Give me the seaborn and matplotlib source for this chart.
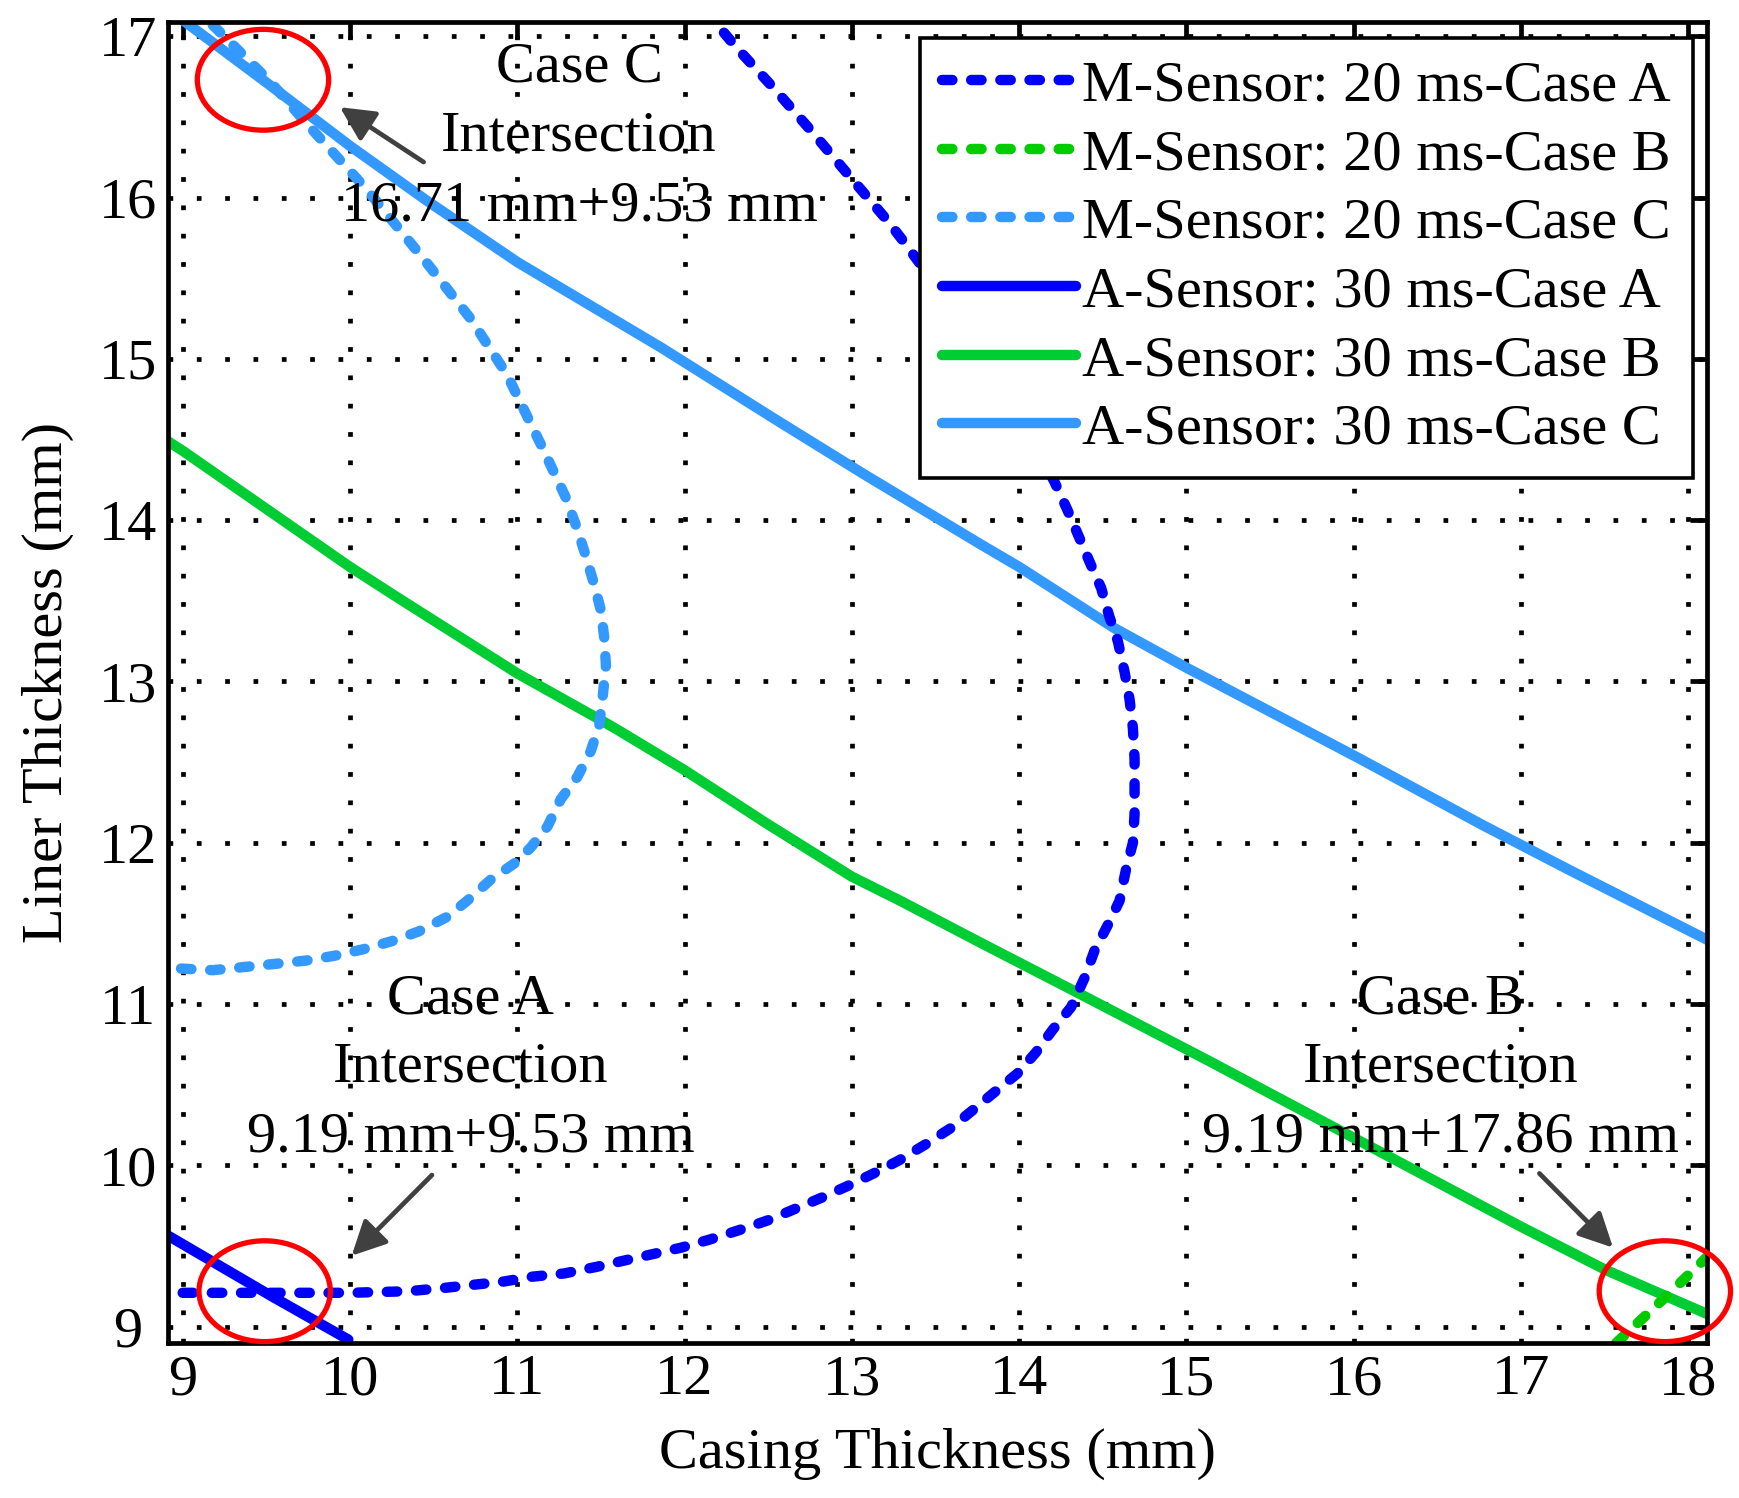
import matplotlib
matplotlib.use("Agg")
import matplotlib.pyplot as plt
from matplotlib.patches import Ellipse
import seaborn as sns
import pandas as pd

# ---------------- data ----------------
m_a_x = [9.00, 9.50, 10.00, 10.35, 10.56, 10.74, 10.92, 11.09, 11.28, 11.47, 11.64, 11.81,
         11.98, 12.15, 12.33, 12.50, 12.66, 12.82, 12.97, 13.13, 13.28, 13.44, 13.59, 13.72,
         13.86, 13.99, 14.10, 14.20, 14.31, 14.39, 14.45, 14.53, 14.60, 14.64, 14.68, 14.69,
         14.69, 14.69, 14.68, 14.66, 14.63, 14.59, 14.54, 14.49, 14.43, 14.36, 14.29, 14.21,
         13.95, 13.65, 13.30, 13.21, 12.98, 12.76, 12.54, 12.31, 12.18, 12.12]
m_a_y = [9.21, 9.21, 9.21, 9.22, 9.24, 9.26, 9.28, 9.31, 9.33, 9.37, 9.41, 9.45,
         9.49, 9.54, 9.60, 9.66, 9.73, 9.80, 9.87, 9.95, 10.03, 10.13, 10.23, 10.34,
         10.46, 10.57, 10.70, 10.84, 10.98, 11.16, 11.33, 11.49, 11.64, 11.84, 12.00, 12.18,
         12.35, 12.52, 12.71, 12.89, 13.06, 13.25, 13.40, 13.58, 13.72, 13.89, 14.06, 14.24,
         14.75, 15.25, 15.74, 15.86, 16.14, 16.41, 16.67, 16.93, 17.09, 17.17]

m_b_x = [17.57, 17.86, 18.11]
m_b_y = [8.90, 9.18, 9.43]

m_c_x = [8.99, 9.18, 9.37, 9.56, 9.74, 9.91, 10.08, 10.25, 10.41, 10.58, 10.70, 10.84,
         10.98, 11.08, 11.18, 11.26, 11.36, 11.44, 11.49, 11.51, 11.53, 11.52, 11.50, 11.46,
         11.40, 11.35, 11.29, 11.15, 11.00, 10.94, 10.72, 10.44, 10.10, 9.74, 9.53, 9.14, 9.10]
m_c_y = [11.22, 11.21, 11.23, 11.25, 11.27, 11.30, 11.34, 11.39, 11.45, 11.54, 11.64, 11.77,
         11.87, 11.97, 12.10, 12.27, 12.41, 12.57, 12.73, 12.90, 13.10, 13.27, 13.44, 13.60,
         13.81, 13.97, 14.14, 14.45, 14.77, 14.90, 15.25, 15.62, 16.05, 16.46, 16.71, 17.11, 17.15]

a_a_x = [8.92, 9.53, 9.99]
a_a_y = [9.56, 9.19, 8.92]

a_b_x = [8.91, 9.00, 10.00, 10.30, 11.00, 11.50, 11.60, 12.00, 12.49, 13.00, 13.29, 13.77,
         14.35, 15.13, 16.51, 17.00, 17.51, 18.11]
a_b_y = [14.49, 14.43, 13.71, 13.51, 13.05, 12.76, 12.70, 12.45, 12.12, 11.79, 11.64, 11.38,
         11.07, 10.65, 9.89, 9.62, 9.35, 9.08]

a_c_x = [9.00, 9.53, 10.00, 10.46, 11.00, 11.86, 12.55, 13.08, 13.77, 14.00, 14.57, 15.01,
         16.02, 16.77, 17.31, 17.71, 18.11]
a_c_y = [17.10, 16.69, 16.32, 15.98, 15.60, 15.07, 14.62, 14.28, 13.85, 13.71, 13.33, 13.08,
         12.53, 12.11, 11.82, 11.61, 11.40]

labels = ["M-Sensor: 20 ms-Case A", "M-Sensor: 20 ms-Case B", "M-Sensor: 20 ms-Case C",
          "A-Sensor: 30 ms-Case A", "A-Sensor: 30 ms-Case B", "A-Sensor: 30 ms-Case C"]

x_ticks = [9, 10, 11, 12, 13, 14, 15, 16, 17, 18]
y_ticks = [9, 10, 11, 12, 13, 14, 15, 16, 17]

annot_lines = {
    "C": ["Case C", "Intersection", "16.71 mm+9.53 mm"],
    "A": ["Case A", "Intersection", "9.19 mm+9.53 mm"],
    "B": ["Case B", "Intersection", "9.19 mm+17.86 mm"],
}

# ---------------- style ----------------
sns.set_style("white")
plt.rcParams["font.family"] = ["Liberation Serif", "DejaVu Serif"]
for k in ["text.color", "axes.labelcolor", "xtick.color", "ytick.color", "axes.edgecolor"]:
    plt.rcParams[k] = "black"

FS = 42
BLUE = "#0000FF"
GREEN_D = "#00CC00"
GREEN_S = "#00CC33"
LBLUE = "#3399FF"
LW = 7.5
DASH = (0, (1.0, 1.8))

fig = plt.figure(figsize=(17.4, 14.98), dpi=100)
ax = fig.add_axes([168.3 / 1740, 1 - 1343.3 / 1498, (1706.7 - 168.3) / 1740, (1343.3 - 21.7) / 1498])

series = [
    (m_a_x, m_a_y, labels[0], BLUE, DASH, 6),
    (m_b_x, m_b_y, labels[1], GREEN_D, DASH, 6),
    (m_c_x, m_c_y, labels[2], LBLUE, DASH, 4),
    (a_a_x, a_a_y, labels[3], BLUE, "-", 3),
    (a_b_x, a_b_y, labels[4], GREEN_S, "-", 3),
    (a_c_x, a_c_y, labels[5], LBLUE, "-", 5),
]

for xs, ys, lab, col, ls, z in series:
    df = pd.DataFrame({"x": xs, "y": ys})
    sns.lineplot(data=df, x="x", y="y", ax=ax, sort=False, estimator=None,
                 color=col, linewidth=LW, linestyle=ls, label=lab, zorder=z,
                 dash_capstyle="round", solid_capstyle="round")

ax.set_xlim(8.914, 18.11)
ax.set_ylim(8.897, 17.09)
ax.set_xticks(x_ticks)
ax.set_yticks(y_ticks)
ax.set_xticklabels([str(t) for t in x_ticks])
ax.set_yticklabels([str(t) for t in y_ticks])

ax.grid(True, color="black", linestyle=(0, (1, 5.0)), linewidth=3.4)
ax.set_axisbelow(False)
for gl in ax.get_xgridlines() + ax.get_ygridlines():
    gl.set_zorder(1.5)

for sp in ax.spines.values():
    sp.set_visible(True)
    sp.set_color("black")
    sp.set_linewidth(3.4)
    sp.set_zorder(10)

ax.tick_params(axis="both", which="major", direction="in", length=12.5, width=3.4,
               color="black", labelcolor="black", labelsize=FS, top=True, right=True)
ax.tick_params(axis="x", pad=8)
ax.tick_params(axis="y", pad=29)
for t in ax.get_yticklabels():
    t.set_horizontalalignment("center")

ax.set_xlabel("Casing Thickness (mm)", fontsize=FS, color="black")
ax.set_ylabel("Liner Thickness (mm)", fontsize=FS, color="black")
ax.xaxis.set_label_coords(0.5, -0.064)
ax.yaxis.set_label_coords(-0.061, 0.5)

# legend
handles, labs = ax.get_legend_handles_labels()
leg = ax.legend(handles, labs, loc="upper right", bbox_to_anchor=(0.9911, 0.9879),
                borderaxespad=0, fontsize=FS, frameon=True, fancybox=False,
                framealpha=1, edgecolor="black", handlelength=2.3, handletextpad=0.1,
                labelspacing=0.27, borderpad=0.38, labelcolor="black")
leg.get_frame().set_linewidth(2.6)
leg.set_zorder(20)

# red circles
for (cx, cy) in [(9.48, 16.73), (9.49, 9.22), (17.86, 9.22)]:
    ax.add_patch(Ellipse((cx, cy), 0.785, 0.625, fill=False, edgecolor="red",
                         linewidth=3.8, clip_on=False, zorder=12))

# arrows
arrow_kw = dict(arrowstyle="-|>", color="#404040", lw=3.4, mutation_scale=52,
                shrinkA=0, shrinkB=0)
ax.annotate("", xy=(9.94, 16.56), xytext=(10.44, 16.22), arrowprops=arrow_kw, zorder=12)
ax.annotate("", xy=(10.01, 9.44), xytext=(10.49, 9.94), arrowprops=arrow_kw, zorder=12)
ax.annotate("", xy=(17.55, 9.49), xytext=(17.11, 9.95), arrowprops=arrow_kw, zorder=12)

# annotation texts
text_pos = {"C": (11.37, [16.717, 16.289, 15.859]),
            "A": (10.72, [10.943, 10.519, 10.085]),
            "B": (16.52, [10.943, 10.519, 10.085])}
for key, (tx, tys) in text_pos.items():
    for line, ty in zip(annot_lines[key], tys):
        ax.text(tx, ty, line, ha="center", va="baseline", fontsize=FS, color="black", zorder=11)

fig.savefig("out.png", dpi=100)
